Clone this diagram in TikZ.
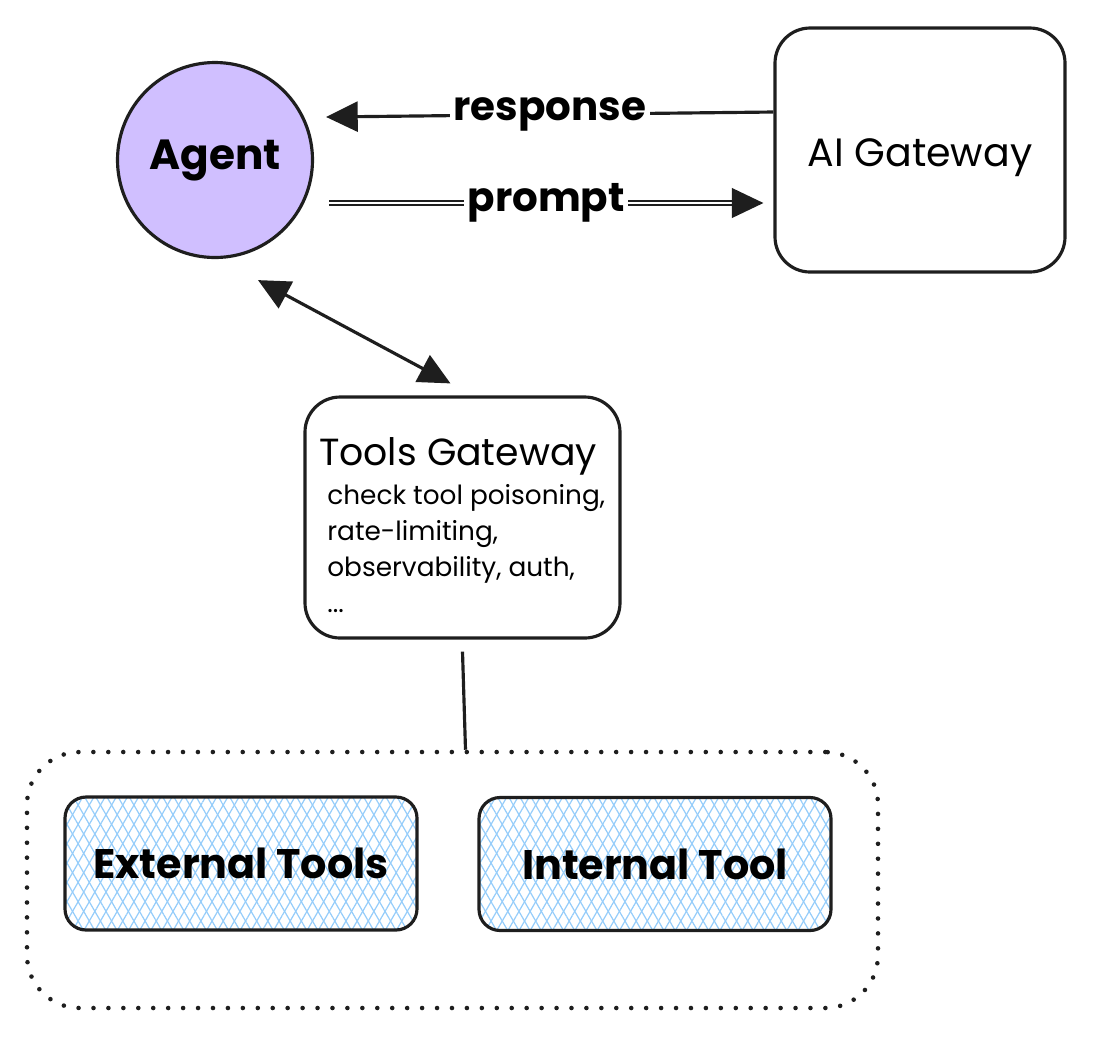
\documentclass[tikz,border=0pt]{standalone}
\usepackage{fontspec}
\setmainfont{Poppins}
\usetikzlibrary{arrows.meta,patterns.meta}
\definecolor{ink}{RGB}{30,30,30}
\definecolor{agentviolet}{RGB}{208,191,255}
\definecolor{hatchblue}{RGB}{150,205,250}

\begin{document}
\begin{tikzpicture}[
  bighead/.tip={Triangle[length=18pt,width=17pt]},
  agentnode/.style={circle, draw=ink, line width=1.8pt, fill=agentviolet, minimum size=3.9cm, font=\bfseries\fontsize{24}{28}\selectfont},
  gwbox/.style={draw=ink, line width=1.8pt, rounded corners=20pt, fill=white},
  toolbox/.style={draw=ink, line width=1.8pt, rounded corners=12pt, minimum width=7.04cm, minimum height=2.66cm,
    font=\bfseries\fontsize{23.5}{27}\selectfont,
    preaction={pattern={Lines[angle=60,distance=5.5pt,line width=0.7pt]}, pattern color=hatchblue},
    pattern={Lines[angle=-60,distance=5.5pt,line width=0.7pt]}, pattern color=hatchblue},
  group/.style={draw=ink, line width=2.6pt, dash pattern=on 0pt off 8.5pt, line cap=round, rounded corners=30pt},
  link/.style={draw=ink, line width=1.8pt},
  lbl/.style={fill=white, inner sep=2pt, font=\bfseries\fontsize{23}{27}\selectfont}]
  \useasboundingbox (0,0) rectangle (21.94,-20.74);
  \node[agentnode] (agent) at (4.3,-3.2) {Agent};
  \node[gwbox, minimum width=5.8cm, minimum height=4.88cm] (aigw) at (18.4,-3.0) {};
  \node[font=\fontsize{22.5}{26}\selectfont] (aigwtitle) at (18.4,-3.15) {AI Gateway};
  \node[gwbox, minimum width=6.3cm, minimum height=4.82cm] (tools) at (9.25,-10.35) {};
  \node[font=\fontsize{21.5}{25}\selectfont] (toolstitle) at (9.16,-9.12) {Tools Gateway};
  \node[anchor=north west, align=left, inner sep=0pt, font=\fontsize{15}{20.5}\selectfont] (toolsnote) at (6.54,-9.68)
    {check tool poisoning,\\rate-limiting,\\observability, auth,\\...};
  \node[group, minimum width=17.02cm, minimum height=5.12cm] (tools group) at (9.05,-17.6) {};
  \node[toolbox] (external) at (4.82,-17.27) {External Tools};
  \node[toolbox] (internal) at (13.1,-17.28) {Internal Tool};
  \draw[link, -bighead] ([yshift=0.76cm]aigw.west) -- node[lbl] {response} ([shift={(0.24,0.86)}]agent.east);
  \draw[link, -bighead, double=white, double distance=1.3pt, line width=0.9pt] ([shift={(0.3,-0.86)}]agent.east) -- node[lbl] {prompt} ([shift={(-0.2,-1.06)}]aigw.west);
  \draw[link, bighead-bighead] ([shift={(0.86,-0.42)}]agent.south) -- ([shift={(-0.24,0.24)}]tools.north);
  \draw[link] ([yshift=-0.24cm]tools.south) -- ([xshift=0.26cm]tools group.north);
\end{tikzpicture}
\end{document}
